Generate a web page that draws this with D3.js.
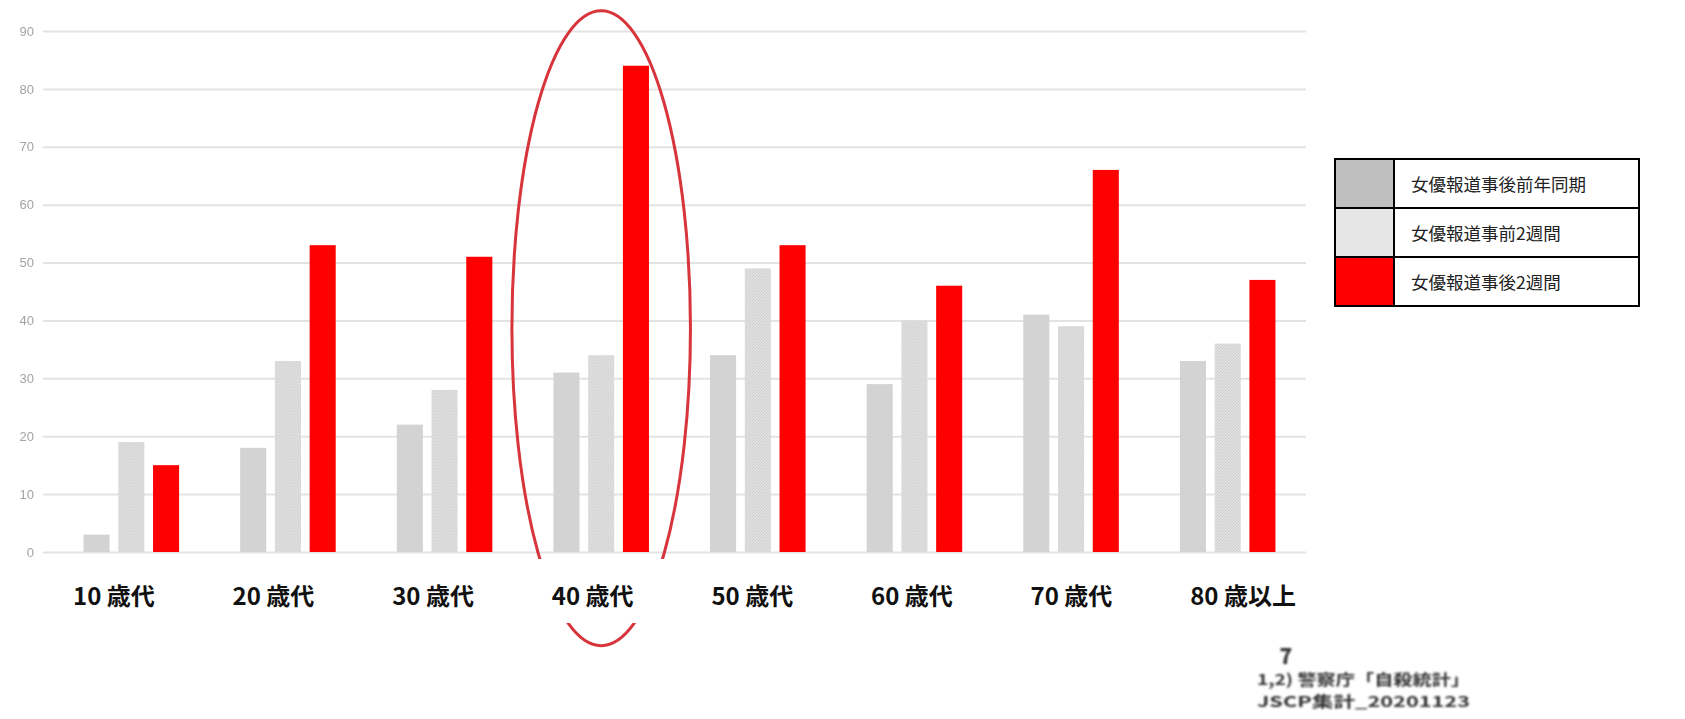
<!DOCTYPE html>
<html>
<head>
<meta charset="utf-8">
<script src="https://cdn.jsdelivr.net/npm/d3@7"></script>
<style>
  html, body { margin: 0; padding: 0; background: #fff; }
  svg { display: block; }
</style>
</head>
<body>
<script>
// Age groups and the three comparison series (suicide counts)
const ageGroups = ["10 歳代", "20 歳代", "30 歳代", "40 歳代", "50 歳代", "60 歳代", "70 歳代", "80 歳以上"];
const seriesNames = ["女優報道事後前年同期", "女優報道事前2週間", "女優報道事後2週間"];
const prevYearSamePeriod = [3, 18, 22, 31, 34, 29, 41, 33];
const before2Weeks = [19, 33, 28, 34, 49, 40, 39, 36];
const after2Weeks = [15, 53, 51, 84, 53, 46, 66, 47];
const yTicks = [0, 10, 20, 30, 40, 50, 60, 70, 80, 90];
const highlightGroup = "40 歳代";
const pageNumber = "7";
const sourceLines = ["1,2) 警察庁「自殺統計」", "JSCP集計_20201123"];

const seriesValues = [prevYearSamePeriod, before2Weeks, after2Weeks];
const barFills = ["#d3d3d3", "url(#speckle)", "#ff0000"];
const legendFills = ["#bfbfbf", "#e6e6e6", "#ff0000"];

const W = 1685, H = 719;
const svg = d3.select("body").append("svg").attr("width", W).attr("height", H);

const defs = svg.append("defs");
// fine dither texture for the "before" bars
const pat = defs.append("pattern").attr("id", "speckle")
  .attr("patternUnits", "userSpaceOnUse").attr("width", 3).attr("height", 3);
pat.append("rect").attr("width", 3).attr("height", 3).attr("fill", "#e0e0e0");
pat.append("rect").attr("x", 0).attr("y", 0).attr("width", 1).attr("height", 1).attr("fill", "#cbcbcb");
pat.append("rect").attr("x", 2).attr("y", 1).attr("width", 1).attr("height", 1).attr("fill", "#d2d2d2");
pat.append("rect").attr("x", 1).attr("y", 2).attr("width", 1).attr("height", 1).attr("fill", "#cfcfcf");

defs.append("filter").attr("id", "soft").append("feGaussianBlur").attr("stdDeviation", 0.6);
defs.append("filter").attr("id", "softer").append("feGaussianBlur").attr("stdDeviation", 0.9);

// scales
const y = d3.scaleLinear().domain([0, 90]).range([552, 31]);
const x0 = d3.scaleBand().domain(ageGroups).range([53, 1306]).paddingInner(0.39).paddingOuter(0.195);
const x1 = d3.scaleBand().domain([0, 1, 2]).range([0, x0.bandwidth()]).paddingInner(0.25);
const xLabel = d3.scaleBand().domain(ageGroups).range([73, 73 + 8 * 159.6]);

// horizontal gridlines
const yAxis = d3.axisLeft(y).tickValues(yTicks).tickSize(-(1306 - 43)).tickFormat(d => d);
const gy = svg.append("g").attr("transform", "translate(43,0)").call(yAxis);
gy.select(".domain").remove();
gy.selectAll(".tick line").attr("stroke", "#e3e3e3").attr("stroke-width", 2);
gy.selectAll(".tick text")
  .attr("x", -9)
  .attr("fill", "#a3a3a3")
  .attr("font-family", "'Liberation Sans', Arial, sans-serif")
  .attr("font-size", 13)
  .attr("filter", "url(#soft)");

// bars
const groups = svg.append("g").selectAll("g").data(ageGroups).join("g")
  .attr("transform", d => `translate(${x0(d)},0)`);
groups.selectAll("rect")
  .data((d, i) => seriesValues.map((s, k) => ({ k, v: s[i] })))
  .join("rect")
  .attr("x", d => x1(d.k))
  .attr("width", x1.bandwidth())
  .attr("y", d => y(d.v))
  .attr("height", d => y(0) - y(d.v))
  .attr("fill", d => barFills[d.k]);

// highlight ellipse around the 40s group
const hx = x0(highlightGroup) + x0.bandwidth() / 2;
const eTop = y(93.5), eBottom = y(-16.2);
svg.append("ellipse")
  .attr("cx", hx)
  .attr("cy", (eTop + eBottom) / 2)
  .attr("rx", x0.step() * 0.57)
  .attr("ry", (eBottom - eTop) / 2)
  .attr("fill", "none")
  .attr("stroke", "#d8343c")
  .attr("stroke-width", 3);

// label strip (covers the ellipse behind the category labels)
svg.append("rect").attr("x", 0).attr("y", 559).attr("width", 1320).attr("height", 64).attr("fill", "#fff");

// category labels
svg.append("g").selectAll("text").data(ageGroups).join("text")
  .attr("x", d => xLabel(d))
  .attr("y", 605)
  .attr("font-family", "'Noto Sans CJK JP', sans-serif")
  .attr("font-weight", 700)
  .attr("font-size", 24)
  .attr("fill", "#111")
  .text(d => d);

// legend table
const lg = svg.append("g");
const lx = 1335, ly = 159, lw = 304, rowH = 49, swW = 59;
seriesNames.forEach((name, i) => {
  lg.append("rect").attr("x", lx).attr("y", ly + i * rowH).attr("width", swW).attr("height", rowH)
    .attr("fill", legendFills[i]);
  lg.append("text").attr("x", lx + swW + 17).attr("y", ly + i * rowH + rowH / 2)
    .attr("dominant-baseline", "central")
    .attr("font-family", "'Noto Sans CJK JP', sans-serif")
    .attr("font-size", 17.5)
    .attr("fill", "#222")
    .text(name);
});
lg.append("rect").attr("x", lx).attr("y", ly).attr("width", lw).attr("height", rowH * 3)
  .attr("fill", "none").attr("stroke", "#000").attr("stroke-width", 2);
lg.append("line").attr("x1", lx + swW).attr("x2", lx + swW).attr("y1", ly).attr("y2", ly + rowH * 3)
  .attr("stroke", "#000").attr("stroke-width", 2);
[1, 2].forEach(i => {
  lg.append("line").attr("x1", lx).attr("x2", lx + lw).attr("y1", ly + i * rowH).attr("y2", ly + i * rowH)
    .attr("stroke", "#000").attr("stroke-width", 2);
});

// page number and source note
const foot = svg.append("g").attr("filter", "url(#softer)")
  .attr("font-family", "'Noto Sans CJK JP', sans-serif").attr("font-weight", 700).attr("fill", "#333");
foot.append("text").attr("x", 1286).attr("y", 664).attr("text-anchor", "middle")
  .attr("font-size", 21).attr("font-weight", 900).text(pageNumber);
foot.selectAll("text.src").data(sourceLines).join("text").attr("class", "src")
  .attr("x", 1257)
  .attr("y", (d, i) => 685 + i * 22)
  .attr("font-size", 15)
  .attr("textLength", 213)
  .attr("lengthAdjust", "spacingAndGlyphs")
  .text(d => d);
</script>
</body>
</html>
